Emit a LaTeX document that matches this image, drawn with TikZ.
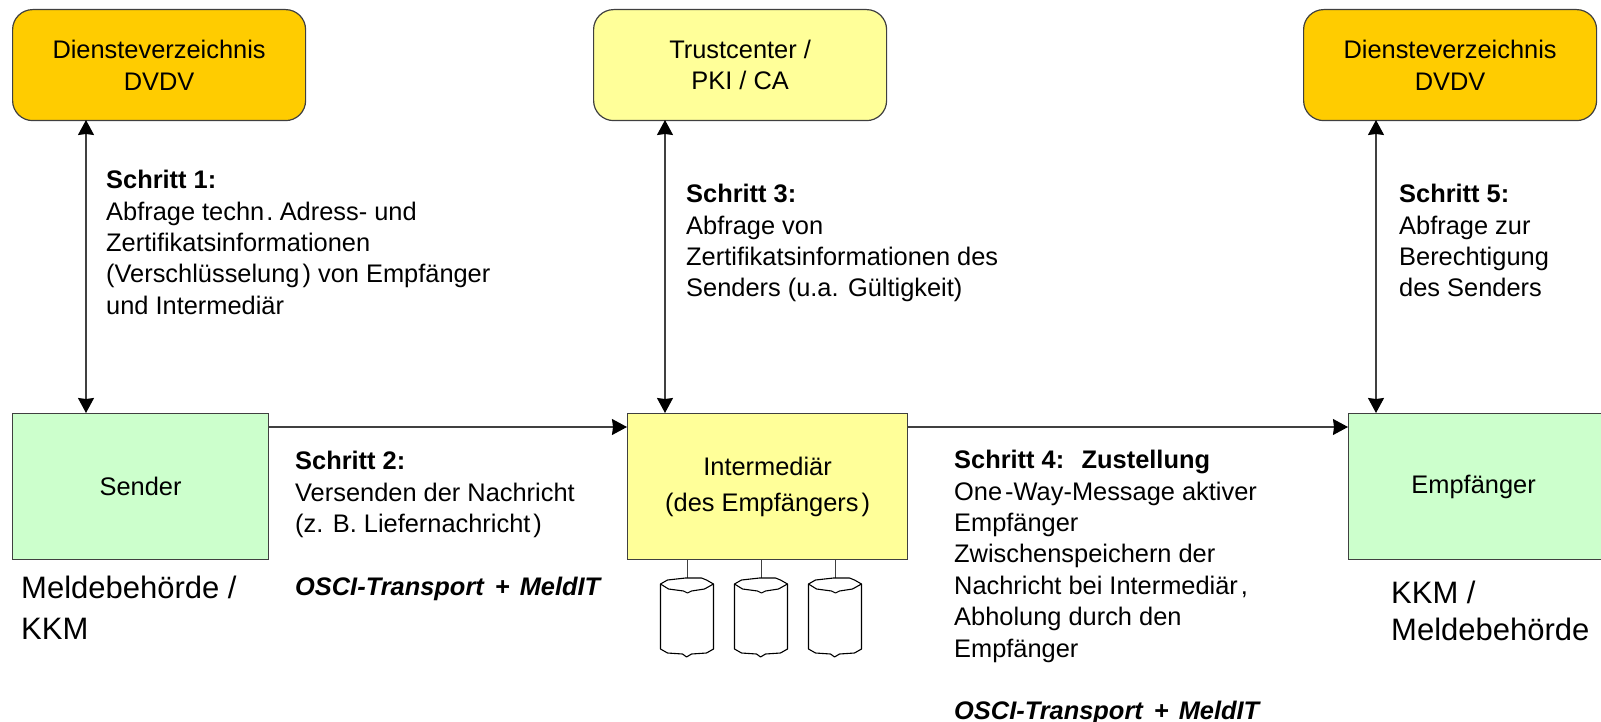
\documentclass[tikz,border=0pt]{standalone}
\usepackage{fontspec}
\setmainfont{Liberation Sans}
\usetikzlibrary{arrows.meta}
\definecolor{dvdv}{HTML}{FFCC00}
\definecolor{pale}{HTML}{FFFF99}
\definecolor{mint}{HTML}{CCFFCC}
\definecolor{edge}{HTML}{404040}
\tikzset{
  x=1pt,y=-1pt,
  boxbase/.style={draw=edge,line width=1.2pt,inner sep=0pt,align=center,font=\fontsize{25.4}{31.4}\selectfont,anchor=north west},
  service/.style={boxbase,rounded corners=20pt,minimum width=293pt,minimum height=111pt},
  party/.style={boxbase,minimum height=146pt},
  note/.style={anchor=north west,inner sep=0pt,align=left,font=\fontsize{25.4}{31.4}\selectfont},
  bignote/.style={anchor=north west,inner sep=0pt,align=left,font=\fontsize{31}{41}\selectfont},
  link/.style={draw=edge,line width=1.2pt},
  dbl/.style={link,{Stealth[length=15pt,width=16pt,inset=1pt,color=black]}-{Stealth[length=15pt,width=16pt,inset=1pt,color=black]}},
  sgl/.style={link,-{Stealth[length=15pt,width=16pt,inset=1pt,color=black]}},
  store/.style={minimum width=53pt,minimum height=78pt,inner sep=0pt,anchor=north west},
  diskline/.style={black,line width=1.1pt,line join=round}
}
\newcommand{\diskdraw}[1]{%
  \begin{scope}[shift={(#1.north west)}]
  \draw[diskline,fill=white]
    (0,6) -- (0,71) -- (7,75) -- (22,76) -- (26,79) -- (31,76) -- (46,75) -- (53,71) -- (53,6)
    -- (46,2) -- (41,0) -- (25,0) -- (7,2) -- cycle;
  \draw[diskline]
    (0,6) -- (8,11) -- (23,13) -- (27,15) -- (31,13) -- (44,11) -- (53,6);
  \end{scope}
}
\begin{document}
\begin{tikzpicture}
\useasboundingbox (0,0) rectangle (1601,722);
\node[service,fill=dvdv] (dl) at (12,9) {\raisebox{2pt}{\parbox{293pt}{\centering Diensteverzeichnis\\DVDV}}};
\node[service,fill=pale] (tc) at (593,9) {\raisebox{2pt}{\parbox{293pt}{\centering Trustcenter /\\PKI / CA}}};
\node[service,fill=dvdv] (dr) at (1303,9) {\raisebox{2pt}{\parbox{293pt}{\centering Diensteverzeichnis\\DVDV}}};
\node[party,fill=mint,minimum width=256pt] (se) at (12,413) {Sender};
\node[party,fill=pale,minimum width=280pt,font=\fontsize{25.4}{36}\selectfont] (im) at (627,413) {Intermediär\\(des Empfängers\hspace{3pt})};
\node[party,fill=mint,minimum width=280pt] (em) at (1348,413) {\hspace{-30pt}Empfänger};
\coordinate (a1t) at (86,120); \coordinate (a1b) at (86,413);
\coordinate (a3t) at (665,120); \coordinate (a3b) at (665,413);
\coordinate (a5t) at (1376,120); \coordinate (a5b) at (1376,413);
\coordinate (h1l) at (268,427); \coordinate (h1r) at (627,427);
\coordinate (h2l) at (907,427); \coordinate (h2r) at (1348,427);
\draw[dbl] (a1t) -- (a1b);
\draw[dbl] (a3t) -- (a3b);
\draw[dbl] (a5t) -- (a5b);
\draw[sgl] (h1l) -- (h1r);
\draw[sgl] (h2l) -- (h2r);
\node[store] (c1) at (660.5,578) {};
\node[store] (c2) at (734.5,578) {};
\node[store] (c3) at (808.5,578) {};
\draw[link] (c1.north |- im.south) -- (c1.north);
\draw[link] (c2.north |- im.south) -- (c2.north);
\draw[link] (c3.north |- im.south) -- (c3.north);
\diskdraw{c1}\diskdraw{c2}\diskdraw{c3}
\node[note] (t1) at (106,170) {\textbf{Schritt 1:}\\Abfrage techn\hspace{2pt}.\hspace{-3pt} Adress- und\\Zertifikatsinformationen\\(Verschlüsselung\hspace{3pt}) von Empfänger\\und Intermediär};
\node[note] (t3) at (686,184) {\textbf{Schritt 3:}\\Abfrage von\\Zertifikatsinformationen des\\Senders (u.a. Gültigkeit)};
\node[note] (t5) at (1399,184) {\textbf{Schritt 5:}\\Abfrage zur\\Berechtigung\\des Senders};
\node[note] (t2) at (295,451) {\textbf{Schritt 2:}\\Versenden der Nachricht\\(z. B. Liefernachricht\hspace{3pt})\\[31.4pt]\textbf{\textit{OSCI-Transport\hspace{4pt} +\hspace{3pt} MeldIT}}};
\node[note] (t4) at (954,450) {\textbf{Schritt 4:\hspace{8pt} Zustellung}\\One\hspace{3pt}-Way-Message aktiver\\Empfänger\\Zwischenspeichern der\\Nachricht bei Intermediär\hspace{3pt},\\Abholung durch den\\Empfänger\\[31.4pt]\textbf{\textit{OSCI-Transport\hspace{4pt} +\hspace{3pt} MeldIT}}};
\node[bignote] (l1) at (21,576) {Meldebehörde /\\KKM};
\node[bignote,font=\fontsize{31}{37}\selectfont] (l2) at (1391,581) {KKM /\\Meldebehörde};
\end{tikzpicture}
\end{document}
